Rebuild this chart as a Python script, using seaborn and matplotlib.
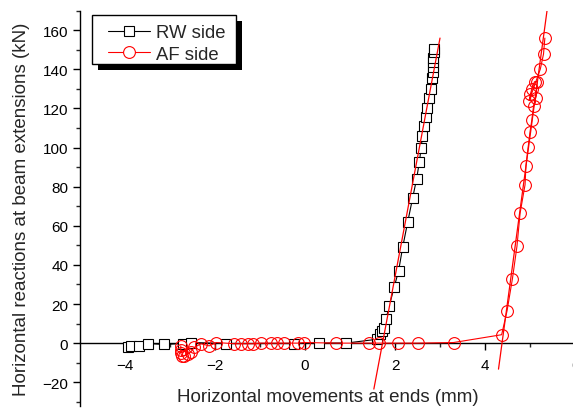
import matplotlib
matplotlib.use("Agg")
import matplotlib.pyplot as plt
from matplotlib.lines import Line2D
from matplotlib.patches import Rectangle
from matplotlib.transforms import IdentityTransform
import seaborn as sns

# RW side: horizontal movement (mm) vs. horizontal reaction (kN)
rw_x = [-3.94, -3.87, -3.68, -3.48, -3.14, -2.72, -2.53, -1.76, -0.24, 0.32, 0.91,
        1.61, 1.67, 1.72, 1.76, 1.80, 1.87, 1.98, 2.08, 2.17, 2.28, 2.39, 2.48,
        2.54, 2.58, 2.61, 2.65, 2.68, 2.71, 2.76, 2.80, 2.82, 2.84, 2.84, 2.85,
        2.85, 2.87, 2.87]
rw_y = [-2.2, -1.4, -1.4, -0.2, -0.7, -0.2, 0.3, -0.2, -0.2, 0.0, 0.0,
        2.0, 4.6, 6.0, 7.5, 12.3, 18.8, 28.5, 37.0, 49.0, 61.7, 74.0, 84.0,
        92.4, 99.7, 105.7, 110.8, 115.8, 120.4, 125.6, 130.2, 135.4, 138.5, 141.0, 143.6,
        145.6, 148.7, 150.4]

# AF side
af_x = [-2.76, -2.76, -2.76, -2.74, -2.68, -2.61, -2.53, -2.46, -2.31, -2.13,
        -1.97, -1.57, -1.42, -1.27, -1.16, -0.98, -0.76, -0.62, -0.46, -0.16,
        -0.02, 0.69, 1.43, 1.65, 2.06, 2.50, 3.30,
        4.37, 4.49, 4.61, 4.71, 4.78, 4.89, 4.91, 4.96, 5.00, 5.04, 5.08, 5.13,
        5.16, 5.10, 5.04, 5.01, 4.98, 5.23, 5.30, 5.33]
af_y = [-1.4, -3.4, -5.0, -6.5, -6.5, -5.6, -4.3, -2.2, -0.3, -1.4,
        0.3, -0.3, -0.3, -0.3, -0.3, 0.0, 0.0, 0.0, 0.0, 0.0,
        0.3, 0.0, 0.0, 0.0, 0.0, 0.0, 0.3,
        4.3, 16.5, 33.0, 49.5, 66.5, 81.0, 90.7, 100.4, 108.0, 114.0, 121.4, 125.6,
        133.7, 133.7, 130.0, 127.4, 124.0, 140.2, 147.8, 156.0]

# Linear stiffness fits of the loading branches
fit_rw_x = [1.53, 3.00]
fit_rw_y = [-23.5, 156.0]
fit_af_x = [4.30, 5.38]
fit_af_y = [-13.3, 170.3]

series_labels = ["RW side", "AF side"]
x_ticks = [-4, -2, 0, 2, 4, 6]
y_ticks = [-20, 0, 20, 40, 60, 80, 100, 120, 140, 160]

sns.set_style("ticks")
plt.rcParams["font.family"] = ["Liberation Sans", "DejaVu Sans"]

W, H = 573, 410
fig = plt.figure(figsize=(W / 100, H / 100), dpi=100)
ax = fig.add_axes([80 / W, 3.3 / H, 495 / W, 395 / H])

sns.lineplot(x=rw_x, y=rw_y, sort=False, estimator=None, ax=ax, color="black",
             linewidth=0.8, marker="s", markersize=7, markerfacecolor="white",
             markeredgecolor="black", markeredgewidth=0.8, zorder=3)
sns.lineplot(x=af_x, y=af_y, sort=False, estimator=None, ax=ax, color="red",
             linewidth=0.8, marker="o", markersize=8.5, markerfacecolor="none",
             markeredgecolor="red", markeredgewidth=0.8, zorder=4)
sns.lineplot(x=fit_rw_x, y=fit_rw_y, sort=False, estimator=None, ax=ax,
             color="red", linewidth=0.9, zorder=5)
sns.lineplot(x=fit_af_x, y=fit_af_y, sort=False, estimator=None, ax=ax,
             color="red", linewidth=0.9, zorder=5)

ax.set_xlim(-5, 6)
ax.set_ylim(-32, 170)

# Origin-style axes: left spine plus an x axis running through y = 0
ax.spines["bottom"].set_position(("data", 0))
ax.spines["top"].set_visible(False)
ax.spines["right"].set_visible(False)
for s in ("left", "bottom"):
    ax.spines[s].set_linewidth(1.0)
    ax.spines[s].set_color("black")

ax.set_xticks(x_ticks)
ax.set_xticks([-3, -1, 1, 3, 5], minor=True)
ax.set_yticks(y_ticks)
ax.set_yticks([-30, -10, 10, 30, 50, 70, 90, 110, 130, 150, 170], minor=True)
ax.tick_params(axis="both", which="major", direction="out", length=5, width=1,
               labelsize=11, colors="black")
ax.tick_params(axis="both", which="minor", direction="out", length=3, width=1)
ax.tick_params(axis="x", which="major", pad=6)

ax.set_xlabel("Horizontal movements at ends (mm)", fontsize=13.5, labelpad=11)
ax.set_ylabel("Horizontal reactions at beam extensions (kN)", fontsize=13.5, labelpad=9)

handles = [
    Line2D([], [], color="black", linewidth=0.8, marker="s", markersize=7,
           markerfacecolor="white", markeredgecolor="black", markeredgewidth=0.8),
    Line2D([], [], color="red", linewidth=0.8, marker="o", markersize=8.5,
           markerfacecolor="white", markeredgecolor="red", markeredgewidth=0.8),
]
leg = ax.legend(handles, series_labels, loc="upper left",
                bbox_to_anchor=(108 / W, 1 - 25 / H), bbox_transform=fig.transFigure,
                fontsize=13.3, frameon=False, handlelength=2.3, handletextpad=0.3,
                borderpad=0, labelspacing=0.26, borderaxespad=0)
leg.set_zorder(10)

# Legend box with a solid drop shadow (pixel coordinates)
box_x0, box_top, box_w, box_h, off = 92, 16, 144, 49, 6
shadow = Rectangle((box_x0 + off, H - box_top - box_h - off), box_w, box_h,
                   transform=IdentityTransform(), facecolor="black",
                   edgecolor="none", zorder=8, clip_on=False)
frame = Rectangle((box_x0, H - box_top - box_h), box_w, box_h,
                  transform=IdentityTransform(), facecolor="white",
                  edgecolor="black", linewidth=1.0, zorder=9, clip_on=False)
ax.add_patch(shadow)
ax.add_patch(frame)

fig.savefig("out.png", dpi=100)
